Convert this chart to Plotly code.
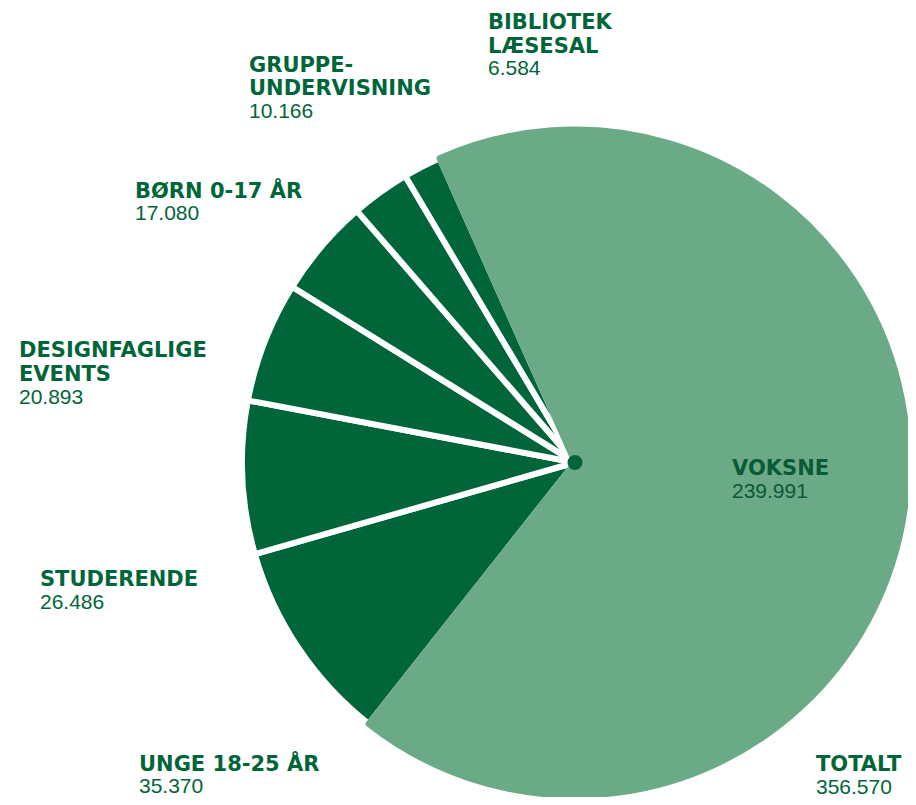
import plotly.graph_objects as go

# ---- data ----
categories = ["Voksne", "Unge 18-25 år", "Studerende", "Designfaglige events",
              "Børn 0-17 år", "Gruppeundervisning", "Bibliotek læsesal"]
values = [239991, 35370, 26486, 20893, 17080, 10166, 6584]
label_lines = [["VOKSNE"], ["UNGE 18-25 ÅR"], ["STUDERENDE"], ["DESIGNFAGLIGE", "EVENTS"],
               ["BØRN 0-17 ÅR"], ["GRUPPE-", "UNDERVISNING"], ["BIBLIOTEK", "LÆSESAL"]]
total_label = "TOTALT"

# ---- styling / layout ----
OFF = 8                      # default page body margin (screen px = figure px + OFF)
W, H = 916 - 2 * OFF, 805 - 2 * OFF
DARK = "#00663A"
LIGHT = "#6AAA86"
TEXT_DARK = "#00663A"
TEXT_VOKSNE = "#0B5A36"
CLEAR = "rgba(0,0,0,0)"
cx, cy, R = 575 - OFF, 462.5 - OFF, 333  # pie centre / radius (figure px)

dom_x = [(cx - R) / W, (cx + R) / W]
dom_y = [(H - cy - R) / H, (H - cy + R) / H]


def fmt(v):
    return f"{v:,}".replace(",", ".")


n = len(values)
common = dict(labels=categories, values=values, sort=False, direction="clockwise",
              rotation=-24, textinfo="none", hoverinfo="label+value",
              domain=dict(x=dom_x, y=dom_y), showlegend=False)

fig = go.Figure()
# dark slices (with white separating strokes)
fig.add_trace(go.Pie(**common, marker=dict(
    colors=[CLEAR] + [DARK] * (n - 1),
    line=dict(color="white", width=[0] + [6] * (n - 1)))))
# light "Voksne" slice on top
fig.add_trace(go.Pie(**common, marker=dict(
    colors=[LIGHT] + [CLEAR] * (n - 1),
    line=dict(color=LIGHT, width=[6] + [0] * (n - 1)))))

# centre dot
fig.add_shape(type="circle", xref="paper", yref="paper", xsizemode="pixel", ysizemode="pixel",
              xanchor=cx / W, yanchor=1 - cy / H, x0=-7.5, x1=7.5, y0=-7.5, y1=7.5,
              fillcolor=DARK, line_width=0)

# label anchors (screen px): left x, centre of first text line
label_pos = [(731, 468), (138, 763), (39, 579), (18, 350.5),
             (134, 190), (248, 65), (487, 22)]
total_pos = (815, 764)
PITCH_NAME = 23.5   # between two bold name lines
PITCH_NUM = 22      # from last name line to the number
NAME_FONT = dict(family="DejaVu Sans", size=21, weight="bold")
NUM_FONT = dict(family="Liberation Sans", size=21)


def add_label(lines, number, pos, color):
    x, y = pos[0] - OFF, pos[1] - OFF
    all_lines = lines + [number]
    for k, line in enumerate(all_lines):
        is_num = k == len(lines)
        if k > 0:
            y += PITCH_NUM if is_num else PITCH_NAME
        f = dict(NUM_FONT if is_num else NAME_FONT)
        f["color"] = color
        fig.add_annotation(text=line, xref="paper", yref="paper",
                           x=x / W, y=1 - y / H,
                           xanchor="left", yanchor="middle", showarrow=False,
                           borderpad=0, font=f)


for i in range(n):
    add_label(label_lines[i], fmt(values[i]), label_pos[i],
              TEXT_VOKSNE if i == 0 else TEXT_DARK)
add_label([total_label], fmt(sum(values)), total_pos, TEXT_DARK)

fig.update_layout(width=W, height=H, autosize=False,
                  margin=dict(l=0, r=0, t=0, b=0),
                  paper_bgcolor="white", plot_bgcolor="white")

fig.write_html("out.html")
